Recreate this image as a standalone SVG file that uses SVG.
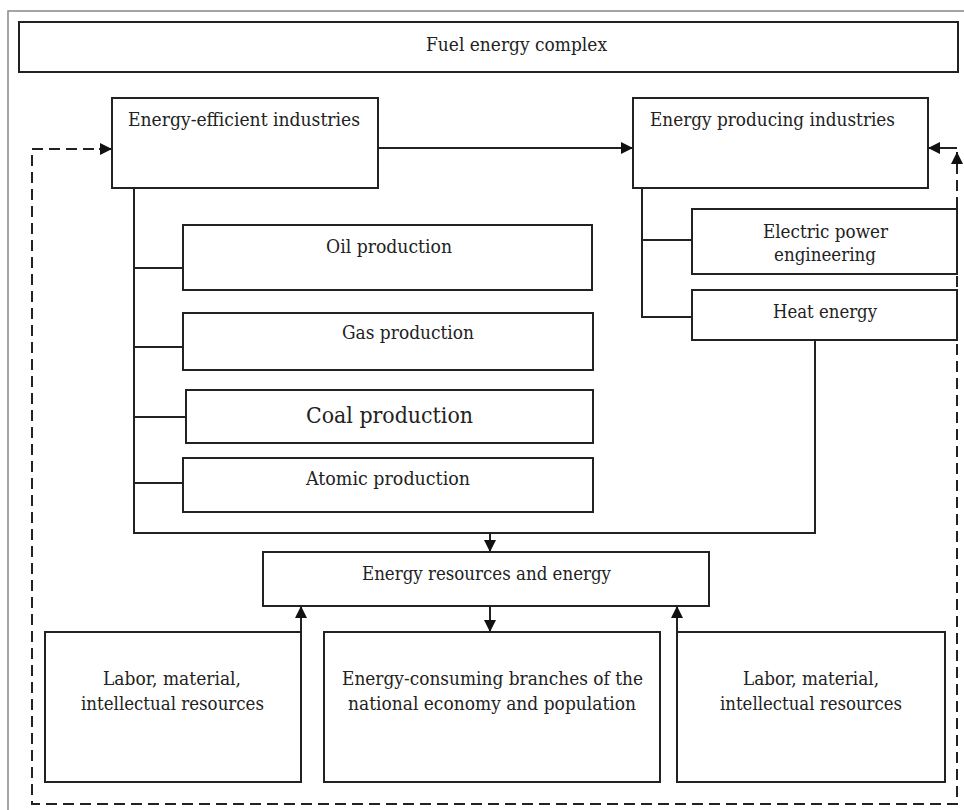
<svg xmlns="http://www.w3.org/2000/svg" width="964" height="810" viewBox="0 0 964 810">
<style>
  .box { fill: #fff; stroke: #222; stroke-width: 2; }
  .t { font-family: "DejaVu Serif", "Liberation Serif", serif; font-size: 19px; fill: #222; }
  .big { font-size: 22px; }
  .ln { fill: none; stroke: #222; stroke-width: 2; }
  .dash { fill: none; stroke: #222; stroke-width: 2; stroke-dasharray: 11 6; }
  .frame { fill: none; stroke: #888; stroke-width: 1.5; }
</style>
<defs>
  <marker id="ah" markerUnits="userSpaceOnUse" markerWidth="12" markerHeight="12" refX="12" refY="6" orient="auto">
    <path d="M0,0 L12,6 L0,12 z" fill="#111"/>
  </marker>
</defs>
<rect width="964" height="810" fill="#fff"/>
<path class="frame" d="M8,812 V11 H964"/>

<g id="connectors">
  <path class="ln" d="M134,188 V533 H815 V340"/>
  <path class="ln" d="M134,268 H183 M134,347 H183 M134,417 H186 M134,483 H187"/>
  <path class="ln" d="M642,188 V317 H692 M642,240 H692"/>
  <path class="ln" d="M490,533 V552" marker-end="url(#ah)"/>
  <path class="ln" d="M378,148 H633" marker-end="url(#ah)"/>
  <path class="ln" d="M490,606 V632" marker-end="url(#ah)"/>
  <path class="ln" d="M301,634 V606" marker-end="url(#ah)"/>
  <path class="ln" d="M677,634 V606" marker-end="url(#ah)"/>
  <path class="ln" d="M957,148 H928" marker-end="url(#ah)"/>
  <path class="dash" d="M957,208 V804 H32 V149 H99"/>
  <path class="ln" d="M99,149 H112" marker-end="url(#ah)"/>
  <path class="dash" d="M957,208 V164"/>
  <path class="ln" d="M957,165 V152" marker-end="url(#ah)"/>
</g>

<g id="fuel"><rect class="box" x="19" y="22" width="939" height="50"/>
  <text class="t" x="426" y="51" textLength="181" lengthAdjust="spacingAndGlyphs">Fuel energy complex</text></g>
<g id="eei"><rect class="box" x="112" y="98" width="266" height="90"/>
  <text class="t" x="128" y="126" textLength="232" lengthAdjust="spacingAndGlyphs">Energy-efficient industries</text></g>
<g id="epi"><rect class="box" x="633" y="98" width="295" height="90"/>
  <text class="t" x="650" y="126" textLength="245" lengthAdjust="spacingAndGlyphs">Energy producing industries</text></g>
<g id="oil"><rect class="box" x="183" y="225" width="409" height="65"/>
  <text class="t" x="326" y="253" textLength="126" lengthAdjust="spacingAndGlyphs">Oil production</text></g>
<g id="gas"><rect class="box" x="183" y="313" width="410" height="57"/>
  <text class="t" x="342" y="339" textLength="132" lengthAdjust="spacingAndGlyphs">Gas production</text></g>
<g id="coal"><rect class="box" x="186" y="390" width="407" height="53"/>
  <text class="t big" x="306" y="423" textLength="167" lengthAdjust="spacingAndGlyphs">Coal production</text></g>
<g id="atomic"><rect class="box" x="183" y="458" width="410" height="54"/>
  <text class="t" x="306" y="485" textLength="164" lengthAdjust="spacingAndGlyphs">Atomic production</text></g>
<g id="electric"><rect class="box" x="692" y="209" width="265" height="65"/>
  <text class="t" x="763" y="238" textLength="125" lengthAdjust="spacingAndGlyphs">Electric power</text>
  <text class="t" x="774" y="261" textLength="102" lengthAdjust="spacingAndGlyphs">engineering</text></g>
<g id="heat"><rect class="box" x="692" y="290" width="265" height="50"/>
  <text class="t" x="773" y="318" textLength="104" lengthAdjust="spacingAndGlyphs">Heat energy</text></g>
<g id="resources"><rect class="box" x="263" y="552" width="446" height="54"/>
  <text class="t" x="362" y="580" textLength="249" lengthAdjust="spacingAndGlyphs">Energy resources and energy</text></g>
<g id="labor1"><rect class="box" x="45" y="632" width="256" height="150"/>
  <text class="t" x="103" y="685" textLength="138" lengthAdjust="spacingAndGlyphs">Labor, material,</text>
  <text class="t" x="81" y="710" textLength="183" lengthAdjust="spacingAndGlyphs">intellectual resources</text></g>
<g id="consumers"><rect class="box" x="324" y="632" width="336" height="150"/>
  <text class="t" x="342" y="685" textLength="301" lengthAdjust="spacingAndGlyphs">Energy-consuming branches of the</text>
  <text class="t" x="348" y="710" textLength="288" lengthAdjust="spacingAndGlyphs">national economy and population</text></g>
<g id="labor2"><rect class="box" x="677" y="632" width="268" height="150"/>
  <text class="t" x="743" y="685" textLength="136" lengthAdjust="spacingAndGlyphs">Labor, material,</text>
  <text class="t" x="720" y="710" textLength="182" lengthAdjust="spacingAndGlyphs">intellectual resources</text></g>
</svg>
